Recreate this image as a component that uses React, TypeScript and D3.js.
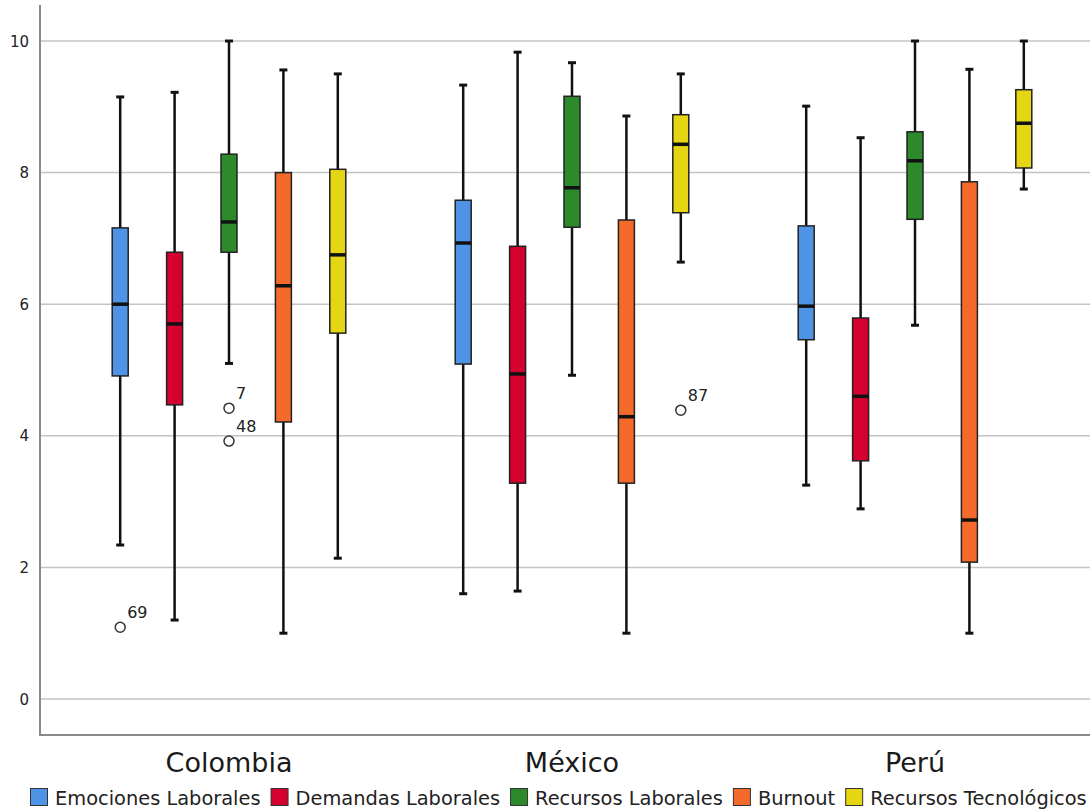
import React, { useEffect, useRef } from "react";
import * as d3 from "d3";

const countries = ["Colombia", "México", "Perú"];
const series = ["Emociones Laborales", "Demandas Laborales", "Recursos Laborales", "Burnout", "Recursos Tecnológicos"];
const colors = ["#4f93e6", "#d4002f", "#2c8a2c", "#f46a2a", "#e4d612"];
const yTicks = [0, 2, 4, 6, 8, 10];

// [min, q1, median, q3, max] per series, per country
const colombiaStats = [
  [2.34, 4.91, 6.0, 7.16, 9.15],
  [1.2, 4.47, 5.7, 6.79, 9.22],
  [5.1, 6.79, 7.25, 8.28, 10],
  [1.0, 4.21, 6.28, 8.0, 9.56],
  [2.14, 5.56, 6.75, 8.05, 9.5],
];
const mexicoStats = [
  [1.6, 5.09, 6.93, 7.58, 9.33],
  [1.64, 3.28, 4.94, 6.88, 9.83],
  [4.92, 7.17, 7.77, 9.16, 9.67],
  [1.0, 3.28, 4.29, 7.28, 8.86],
  [6.64, 7.39, 8.43, 8.88, 9.5],
];
const peruStats = [
  [3.25, 5.46, 5.97, 7.19, 9.01],
  [2.89, 3.62, 4.6, 5.79, 8.53],
  [5.68, 7.29, 8.18, 8.62, 10],
  [1.0, 2.08, 2.72, 7.86, 9.57],
  [7.75, 8.07, 8.75, 9.26, 10],
];
// outliers: country, series index, value, label
const outlierCountry = ["Colombia", "Colombia", "Colombia", "México"];
const outlierSeries = [0, 2, 2, 4];
const outlierValue = [1.09, 4.42, 3.92, 4.39];
const outlierLabel = ["69", "7", "48", "87"];

const statsByCountry = [colombiaStats, mexicoStats, peruStats];

const W = 1090;
const H = 811;

export default function App() {
  const legendRef = useRef<SVGGElement>(null);

  const y = d3.scaleLinear().domain([0, 10]).range([699, 41]);
  const x0 = d3.scaleBand().domain(countries).range([57.5, 1086.5]).padding(0);
  const x1 = d3.scaleBand().domain(series).range([-136, 136]).padding(0);
  const boxW = 16;
  const axisLeft = 40;
  const axisBottom = 735;

  useEffect(() => {
    const g = d3.select(legendRef.current);
    g.selectAll("*").remove();
    let cx = 30;
    series.forEach((s, i) => {
      const item = g.append("g").attr("transform", `translate(${cx},0)`);
      item.append("rect").attr("x", 0.5).attr("y", 788.5).attr("width", 17).attr("height", 17)
        .attr("fill", colors[i]).attr("stroke", "#333").attr("stroke-width", 1);
      const t = item.append("text").attr("x", 25).attr("y", 804.5)
        .attr("font-family", "DejaVu Sans, sans-serif").attr("font-size", 19.4)
        .attr("fill", "#222").text(s);
      const w = (t.node() as SVGTextElement).getComputedTextLength();
      cx += 25 + w + 10;
    });
  }, []);

  return (
    <svg width={W} height={H} style={{ position: "absolute", left: 0, top: 0, background: "#fff" }}>
      {yTicks.map((t) => (
        <g key={t}>
          <line x1={axisLeft} x2={W} y1={y(t)} y2={y(t)} stroke="#c4c4c4" strokeWidth={1.5} />
          <text x={29} y={y(t) + 5.5} textAnchor="end" fontFamily="DejaVu Sans, sans-serif" fontSize={15} fill="#222">{t}</text>
        </g>
      ))}
      <line x1={axisLeft} x2={axisLeft} y1={5} y2={axisBottom + 1} stroke="#8a8a8a" strokeWidth={2} />
      <line x1={axisLeft} x2={W} y1={axisBottom} y2={axisBottom} stroke="#8a8a8a" strokeWidth={2} />
      {countries.map((c, ci) => {
        const gc = (x0(c) as number) + x0.bandwidth() / 2;
        return (
          <g key={c}>
            {statsByCountry[ci].map((st, si) => {
              const cx = gc + (x1(series[si]) as number) + x1.bandwidth() / 2;
              const [mn, q1, md, q3, mx] = st;
              return (
                <g key={si}>
                  <line x1={cx} x2={cx} y1={y(mx)} y2={y(q3)} stroke="#111" strokeWidth={2.5} />
                  <line x1={cx} x2={cx} y1={y(q1)} y2={y(mn)} stroke="#111" strokeWidth={2.5} />
                  <line x1={cx - 4} x2={cx + 4} y1={y(mx)} y2={y(mx)} stroke="#111" strokeWidth={3} />
                  <line x1={cx - 4} x2={cx + 4} y1={y(mn)} y2={y(mn)} stroke="#111" strokeWidth={3} />
                  <rect x={cx - boxW / 2} y={y(q3)} width={boxW} height={y(q1) - y(q3)} fill={colors[si]} stroke="#222" strokeWidth={1.5} />
                  <line x1={cx - boxW / 2} x2={cx + boxW / 2} y1={y(md)} y2={y(md)} stroke="#111" strokeWidth={3.5} />
                </g>
              );
            })}
            <text x={gc} y={772} textAnchor="middle" fontFamily="DejaVu Sans, sans-serif" fontSize={27} fill="#1a1a1a">{c}</text>
          </g>
        );
      })}
      {outlierValue.map((v, i) => {
        const gc = (x0(outlierCountry[i]) as number) + x0.bandwidth() / 2;
        const cx = gc + (x1(series[outlierSeries[i]]) as number) + x1.bandwidth() / 2;
        return (
          <g key={i}>
            <circle cx={cx} cy={y(v)} r={5} fill="#fff" stroke="#333" strokeWidth={1.5} />
            <text x={cx + 7} y={y(v) - 9} fontFamily="DejaVu Sans, sans-serif" fontSize={16} fill="#222">{outlierLabel[i]}</text>
          </g>
        );
      })}
      <g ref={legendRef} />
    </svg>
  );
}
